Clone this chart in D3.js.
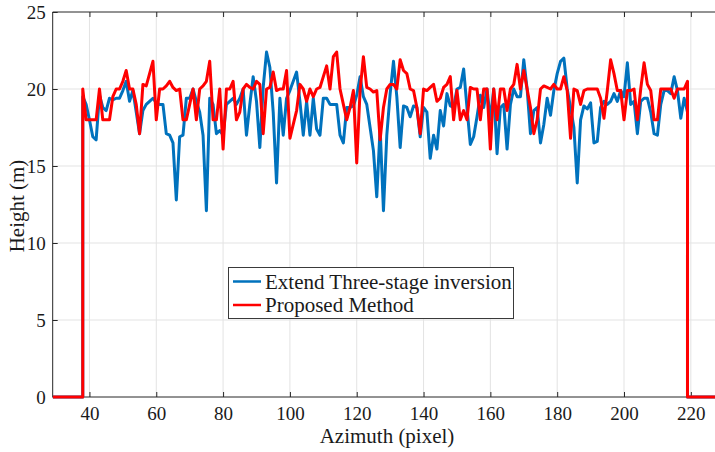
<!DOCTYPE html>
<html>
<head>
<meta charset="utf-8">
<script src="https://cdn.jsdelivr.net/npm/d3@7"></script>
<style>
  html, body { margin: 0; padding: 0; background: #fff; }
  svg { display: block; }
  text { font-family: "Liberation Serif", "Times New Roman", serif; fill: #1a1a1a; }
</style>
</head>
<body>
<svg id="chart" width="715" height="452"></svg>
<script>
// ---- data ----
const xTicks = [40, 60, 80, 100, 120, 140, 160, 180, 200, 220];
const yTicks = [0, 5, 10, 15, 20, 25];
const xDomain = [29, 228];
const yDomain = [0, 25];
const dataStart = 38;          // first azimuth pixel with data
const dataEnd = 219;           // last azimuth pixel with data
const seriesNames = ["Extend Three-stage inversion", "Proposed Method"];

const blueHeights = [
  19.5, 19, 18, 16.9, 16.7, 19.6, 18.8, 18.6, 19.4, 19.3, 19.4, 19.4, 19.9, 20.5, 19.2, 19.9, 18.5, 17.1, 18.6, 19,
  19.2, 19.4, 19.1, 19, 19, 17.1, 17, 16.5, 12.8, 16.9, 17, 19.4, 19.4, 20, 19.2, 18.5, 17, 12.1, 19.4, 19,
  17.1, 17.3, 17, 19, 19.2, 19.4, 19, 19.4, 20, 17, 19, 20.8, 19.2, 16.2, 20.1, 22.4, 21.4, 18.5, 13.9, 19.4,
  17, 19.4, 19.9, 20.5, 21.1, 19.2, 17, 19.2, 17, 19.4, 17.4, 17, 19.4, 19.4, 19, 19, 19, 17, 16.5, 18.8,
  18.8, 18.9, 19.6, 20.8, 19.5, 19, 17.5, 16, 13, 17.5, 12.1, 17, 19.7, 21.8, 19.5, 16.2, 18.9, 18.8, 18.2, 18.9,
  18.8, 16.9, 18.8, 18.5, 15.5, 17, 16.1, 18.6, 17.6, 19.7, 18.9, 18.8, 20, 20.1, 21.3, 18.8, 16.4, 16.9, 18.2, 19.6,
  18.8, 20, 18, 20, 15.8, 18.8, 19, 16.1, 19, 20, 19.5, 19.5, 21.9, 20, 17.1, 18.6, 18.8, 16.5, 17.7, 19.4,
  18.3, 19.9, 21, 21.8, 22, 20, 18.8, 17.5, 13.9, 18, 18.9, 18.7, 19.1, 16.5, 16.6, 18.8, 19.2, 19, 19.2, 19.7,
  19.2, 19.9, 19.5, 21.7, 19, 19.2, 17.1, 19.2, 19.4, 19.4, 18.5, 17.1, 17, 19, 19.9, 19.9, 19.7, 20.8, 19.9, 18.1,
  19.4, 18.5
];

const redHeights = [
  20, 18, 18, 18, 18, 20, 18, 18, 18, 19.5, 20, 20, 20.5, 21.2, 20, 20, 19, 17.1, 20.3, 20.2,
  21, 21.8, 18, 20, 20, 20.2, 20.5, 20.1, 19.9, 20, 18, 18, 19, 20, 18, 20, 20.2, 20.5, 21.8, 18,
  18, 20, 16.1, 20, 20, 20.5, 18, 18.5, 20, 20.3, 20.1, 20, 20.5, 20.3, 17.1, 20, 20.1, 21.1, 19.9, 20,
  20, 21.2, 16.8, 17.7, 18.6, 20.3, 20, 19.2, 20, 19.5, 20, 20.1, 20.8, 21.5, 20, 22.1, 22.4, 20, 19, 18,
  18.8, 19.9, 15.2, 19.9, 22.1, 20.1, 20, 19.8, 19.9, 16.7, 18.8, 20, 20.3, 20.3, 20, 21.9, 21.2, 21, 20, 19.9,
  18.8, 17.1, 20, 19.9, 20.1, 20.3, 19.2, 19.4, 20.1, 20.3, 20.8, 18, 19.9, 18, 18.6, 18, 20.1, 20, 20, 18,
  20, 20, 16.1, 20, 18, 20, 20, 18.6, 20, 20.3, 21.6, 20, 21.2, 20, 18.8, 17.1, 18, 20, 20.2, 20.1,
  20, 20.3, 20, 20, 20.8, 19.9, 16.8, 20, 19.9, 19, 19.9, 20, 20, 20, 20, 19.4, 18.1, 19.9, 21.9, 21,
  19.9, 19.9, 18, 19.9, 19.9, 20, 18, 20, 21.7, 20.3, 19.9, 18, 18, 20, 20, 20, 20, 19.4, 20, 20,
  20, 20.5
];

// ---- build series (zero outside the data range) ----
function buildSeries(values) {
  const pts = [[xDomain[0], 0], [dataStart, 0]];
  values.forEach((v, i) => pts.push([dataStart + i, v]));
  pts.push([dataEnd, 0], [xDomain[1], 0]);
  return pts;
}
const blueSeries = buildSeries(blueHeights);
const redSeries = buildSeries(redHeights);

// ---- layout ----
const svg = d3.select("#chart");
const mLeft = 52.7, mTop = 12, mBottom = 397;
const pxPerUnit = 3.341;
const mRight = mLeft + (xDomain[1] - xDomain[0]) * pxPerUnit;

const x = d3.scaleLinear().domain(xDomain).range([mLeft, mRight]);
const y = d3.scaleLinear().domain(yDomain).range([mBottom, mTop]);

svg.append("defs").append("clipPath").attr("id", "plotclip")
  .append("rect").attr("x", mLeft).attr("y", mTop - 2).attr("width", mRight - mLeft).attr("height", mBottom - mTop + 4);

svg.append("rect").attr("x", mLeft).attr("y", mTop).attr("width", mRight - mLeft).attr("height", mBottom - mTop).attr("fill", "#fff");

// grid
const grid = svg.append("g");
grid.selectAll("line.vg").data(xTicks).join("line").attr("class", "vg")
  .attr("x1", d => x(d)).attr("x2", d => x(d)).attr("y1", mTop).attr("y2", mBottom)
  .attr("stroke", "#e3e3e3").attr("stroke-width", 1);
grid.selectAll("line.hg").data(yTicks.filter(d => d > 0 && d < 25)).join("line").attr("class", "hg")
  .attr("x1", mLeft).attr("x2", mRight).attr("y1", d => y(d)).attr("y2", d => y(d))
  .attr("stroke", "#e3e3e3").attr("stroke-width", 1);

// axes
const axisColor = "#262626";
const xAxis = d3.axisBottom(x).tickValues(xTicks).tickSize(-5).tickPadding(10).tickFormat(d3.format("d"));
const yAxis = d3.axisLeft(y).tickValues(yTicks).tickSize(-5).tickPadding(7).tickFormat(d3.format("d"));

const gx = svg.append("g").attr("transform", `translate(0,${mBottom})`).call(xAxis);
const gy = svg.append("g").attr("transform", `translate(${mLeft},0)`).call(yAxis);
const gxTop = svg.append("g").attr("transform", `translate(0,${mTop})`)
  .call(d3.axisTop(x).tickValues(xTicks).tickSize(-5).tickFormat(""));
[gx, gy, gxTop].forEach(g => {
  g.select(".domain").attr("stroke", axisColor).attr("stroke-width", 1);
  g.selectAll(".tick line").attr("stroke", axisColor).attr("stroke-width", 1);
  g.selectAll("text").attr("font-family", "Liberation Serif, serif").attr("font-size", 19).attr("fill", "#1a1a1a");
});
gx.select(".domain").attr("d", `M${mLeft},0H${mRight}`);
gxTop.select(".domain").attr("d", `M${mLeft},0H${mRight}`);
gy.select(".domain").attr("d", `M0,${mBottom}V${mTop}`);

// lines
const line = d3.line().x(d => x(d[0])).y(d => y(d[1]));
const plot = svg.append("g").attr("clip-path", "url(#plotclip)");
plot.append("path").datum(blueSeries).attr("d", line)
  .attr("fill", "none").attr("stroke", "#0072BD").attr("stroke-width", 3).attr("stroke-linejoin", "round");
plot.append("path").datum(redSeries).attr("d", line)
  .attr("fill", "none").attr("stroke", "#FF0000").attr("stroke-width", 3).attr("stroke-linejoin", "round");

// axis labels
svg.append("text").attr("x", 387).attr("y", 443)
  .attr("text-anchor", "middle").attr("font-size", 21).text("Azimuth (pixel)");
svg.append("text").attr("transform", `translate(24,206) rotate(-90)`)
  .attr("text-anchor", "middle").attr("font-size", 21).text("Height (m)");

// legend
const lg = svg.append("g");
lg.append("rect").attr("x", 228.5).attr("y", 267.5).attr("width", 285).attr("height", 51)
  .attr("fill", "#fff").attr("stroke", "#3a3a3a").attr("stroke-width", 1);
const colors = ["#0072BD", "#FF0000"];
seriesNames.forEach((name, i) => {
  const cy = 281.5 + i * 23.5;
  lg.append("line").attr("x1", 233).attr("x2", 261).attr("y1", cy).attr("y2", cy)
    .attr("stroke", colors[i]).attr("stroke-width", 2.5);
  lg.append("text").attr("x", 265).attr("y", cy + 7).attr("font-size", 21).text(name);
});
</script>
</body>
</html>
